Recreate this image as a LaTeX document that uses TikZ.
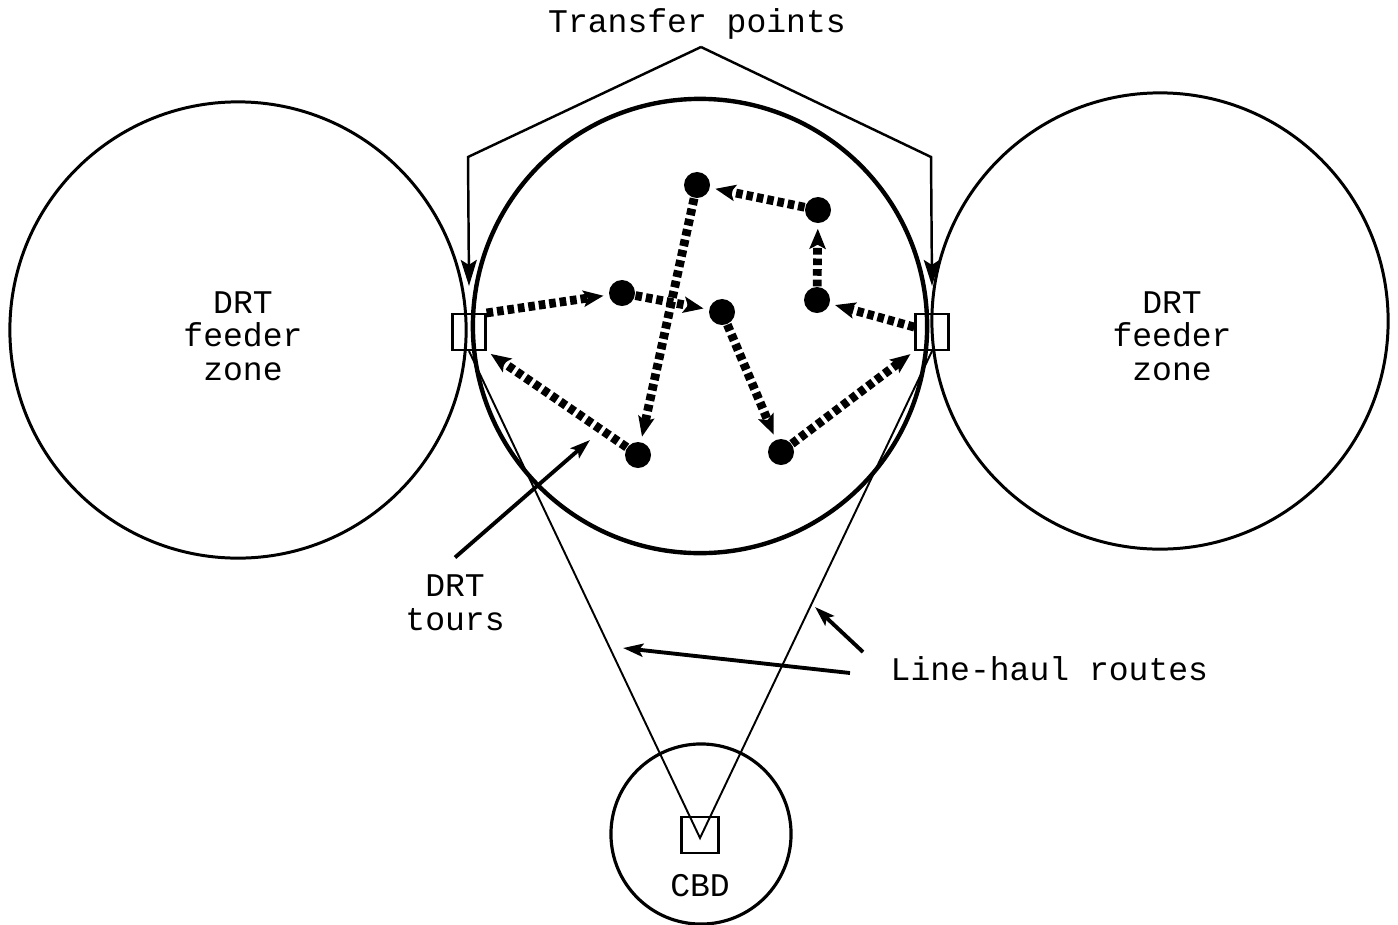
\documentclass[tikz,border=0pt]{standalone}
\usepackage{fontspec}
\usepackage{tikz}
\usetikzlibrary{arrows.meta,positioning}
\newfontfamily\typewr{Liberation Mono}
\newcommand{\lblfont}{\typewr\fontsize{9.4pt}{9.4pt}\selectfont}

\begin{document}
\begin{tikzpicture}[
x=0.01cm,y=-0.01cm,
zone/.style={draw,circle,line width=0.85pt,inner sep=0pt},
stop/.style={circle,fill=black,inner sep=0pt,minimum size=0.26cm},
xfer/.style={draw,line width=0.6pt,inner sep=0pt,minimum width=0.33cm,minimum height=0.36cm},
lbl/.style={font=\lblfont,align=center,inner sep=0pt,anchor=base},
tour/.style={line width=2.5pt,dash pattern=on 1.9pt off 1.1pt,shorten >=0.05cm,
  -{Stealth[length=0.2cm,width=0.16cm,inset=0.04cm]}},
pointer/.style={line width=1.1pt,-{Stealth[length=0.2cm,width=0.13cm,inset=0.04cm]}},
haul/.style={line width=0.55pt,line join=miter}
]
\useasboundingbox (0,0) rectangle (1398,924);

% feeder zones and the central area
\node[zone,minimum size=4.56cm] (west) at (238,330) {};
\node[zone,minimum size=4.56cm] (east) at (1160,321) {};
\node[zone,line width=1.25pt,minimum size=4.54cm] (core) at (700,326) {};
\node[zone,line width=0.9pt,minimum size=1.8cm] (cbd) at (701,834) {};

% base of a multi-line label is its last line
\node[lbl] (westtxt) at (243,380) {DRT\\feeder\\zone};
\node[lbl] (easttxt) at (1172,380) {DRT\\feeder\\zone};

% transfer points
\node[xfer] (lbox) at (469,332) {};
\node[xfer] (rbox) at (932,332) {};
\node[xfer,line width=0.8pt,minimum width=0.37cm] (cbdbox) at (700,835) {};
\node[lbl] (cbdtxt) at (700,896) {CBD};

% line-haul routes
\coordinate (cbdtip) at (700,838);
\draw[haul] (lbox.south) -- (cbdtip) -- (rbox.south);

% stops on the DRT tours
\node[stop] (d1) at (697,185) {};
\node[stop] (d2) at (818,210) {};
\node[stop] (d3) at (622,293) {};
\node[stop] (d4) at (722,312) {};
\node[stop] (d5) at (817,300) {};
\node[stop] (d6) at (638,455) {};
\node[stop] (d7) at (781,452) {};

\draw[tour] (lbox.north east) -- (d3);
\draw[tour] (d3) -- (d4);
\draw[tour] (d4) -- (d7);
\draw[tour] (d7) -- (rbox.south west);
\draw[tour] (rbox) -- (d5);
\draw[tour] (d5) -- (d2);
\draw[tour] (d2) -- (d1);
\draw[tour] (d1) -- (d6);
\draw[tour] (d6) -- (lbox.south east);

% labels with their pointers
\node[lbl] (xfertxt) at (697,32) {Transfer points};
\coordinate (peak) at (701,47);
\coordinate (lknee) at (468,157);
\coordinate (rknee) at (931,157);
\draw[line width=0.7pt,-{Stealth[length=0.26cm,width=0.16cm,inset=0.05cm]}]
  (peak) -- (lknee) -- ([yshift=0.27cm]lbox.north);
\draw[line width=0.7pt,-{Stealth[length=0.26cm,width=0.16cm,inset=0.05cm]}]
  (peak) -- (rknee) -- ([yshift=0.27cm]rbox.north);

\node[lbl] (tours) at (455,630) {DRT\\tours};
\coordinate (tourtip) at (590,440);
\draw[pointer] ([yshift=0.17cm]tours.north) -- (tourtip);

\node[lbl,anchor=base west] (routes) at (890,680) {Line-haul routes};
\coordinate (tailA) at (850,673);
\coordinate (tailB) at (863,652);
\coordinate (haulA) at (623,648);
\coordinate (haulB) at (815,607);
\draw[pointer] (tailA) -- (haulA);
\draw[pointer] (tailB) -- (haulB);
\end{tikzpicture}
\end{document}
